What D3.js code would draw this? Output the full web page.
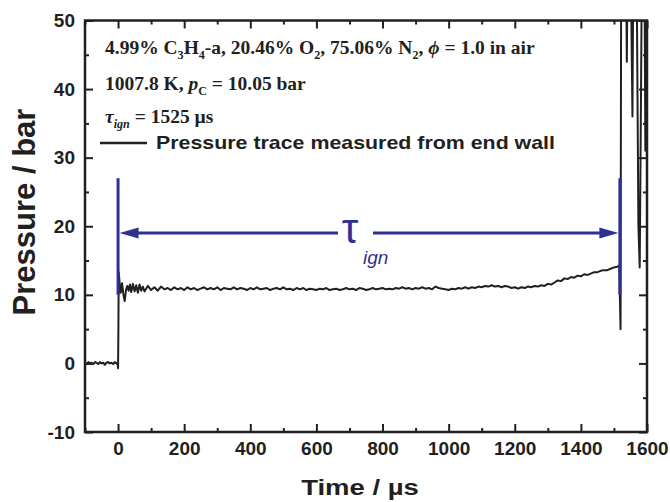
<!DOCTYPE html>
<html>
<head>
<meta charset="utf-8">
<script src="https://cdn.jsdelivr.net/npm/d3@7"></script>
<style>
  body { margin: 0; background: #fff; }
  svg { display: block; }
</style>
</head>
<body>
<div id="chart"></div>
<script>
// axis ticks
var xTickValues = [0, 200, 400, 600, 800, 1000, 1200, 1400, 1600];
var xMinorValues = [-100, 100, 300, 500, 700, 900, 1100, 1300, 1500];
var yTickValues = [-10, 0, 10, 20, 30, 40, 50];
var yMinorValues = [-5, 5, 15, 25, 35, 45];

// pressure trace, [time us, pressure bar]
var trace = [
  [-100, 0.1], [-95, -0.1], [-90, 0.2], [-85, 0.0], [-80, 0.1], [-75, -0.1], [-70, 0.2],
  [-65, 0.1], [-60, -0.1], [-55, 0.2], [-50, 0.0], [-45, 0.1], [-40, -0.2], [-35, 0.1],
  [-30, 0.2], [-25, 0.0], [-20, 0.1], [-15, -0.1], [-10, 0.2], [-5, 0.0], [-2, 0.1],
  [0, -0.7], [1, 5.0], [2, 13.3], [5, 11.6], [8, 10.3], [12, 11.7], [16, 10.1], [20, 9.1],
  [24, 10.7], [28, 11.3], [32, 10.6], [36, 11.5], [40, 10.4], [45, 11.6], [50, 10.5],
  [55, 11.4], [60, 10.3], [65, 11.5], [70, 10.6], [75, 11.2], [80, 10.5], [90, 11.3],
  [100, 10.7], [110, 11.1], [120, 10.6], [130, 11.2], [140, 10.8], [150, 11.0], [160, 10.7],
  [170, 11.1], [180, 10.8], [190, 11.0], [200, 10.7], [210, 11.1], [220, 10.8], [230, 11.0],
  [240, 10.7], [250, 10.9], [260, 11.1], [270, 10.8], [280, 11.0], [290, 10.8], [300, 11.1],
  [310, 10.7], [320, 11.0], [330, 10.9], [340, 10.8], [350, 11.1], [360, 10.8], [370, 11.0],
  [380, 10.9], [390, 10.7], [400, 11.0], [410, 10.8], [420, 11.1], [430, 10.8], [440, 10.9],
  [450, 11.0], [460, 10.7], [470, 10.9], [480, 11.0], [490, 10.8], [500, 11.1], [510, 10.8],
  [520, 10.9], [530, 10.7], [540, 11.0], [550, 10.8], [560, 11.0], [570, 10.7], [580, 10.9],
  [590, 10.8], [600, 10.7], [610, 10.9], [620, 10.8], [630, 11.0], [640, 10.7], [650, 10.8],
  [660, 10.9], [670, 10.7], [680, 10.8], [690, 11.0], [700, 10.8], [710, 10.9], [720, 10.7],
  [730, 11.0], [740, 10.9], [750, 10.7], [760, 10.8], [770, 11.0], [780, 10.8], [790, 10.9],
  [800, 11.0], [810, 10.8], [820, 10.9], [830, 10.8], [840, 11.0], [850, 10.9], [860, 11.1],
  [870, 10.9], [880, 11.0], [890, 10.8], [900, 11.0], [910, 10.9], [920, 11.1], [930, 10.9],
  [940, 11.0], [950, 10.8], [960, 11.2], [970, 11.0], [980, 10.9], [990, 10.8], [1000, 10.7],
  [1010, 10.9], [1020, 10.8], [1030, 11.0], [1040, 10.9], [1050, 11.1], [1060, 10.9],
  [1070, 11.1], [1080, 11.0], [1090, 11.2], [1100, 11.1], [1110, 11.3], [1120, 11.2],
  [1130, 11.4], [1140, 11.2], [1150, 11.3], [1160, 11.1], [1170, 11.3], [1180, 11.2],
  [1190, 11.0], [1200, 11.1], [1210, 10.9], [1220, 11.1], [1230, 11.0], [1240, 11.2],
  [1250, 11.1], [1260, 11.3], [1270, 11.2], [1280, 11.4], [1290, 11.3], [1300, 11.6],
  [1310, 11.5], [1320, 11.8], [1330, 12.1], [1340, 12.0], [1350, 12.4], [1360, 12.3],
  [1370, 12.6], [1380, 12.5], [1390, 12.8], [1400, 12.7], [1410, 13.0], [1420, 12.9],
  [1430, 13.1], [1440, 13.3], [1450, 13.3], [1460, 13.5], [1470, 13.6], [1480, 13.6],
  [1490, 13.8], [1500, 14.0], [1510, 14.1], [1516, 14.3],
  [1520, 5.0], [1522, 62], [1530, 62], [1536, 62], [1539, 44], [1542, 62], [1550, 62],
  [1556, 36], [1559, 62], [1568, 62], [1574, 20], [1578, 14], [1582, 40], [1585, 62],
  [1592, 62], [1595, 31], [1598, 62], [1600, 62]
];

// ignition delay marker
var tauStart = 0;
var tauEnd = 1518;
var arrowP = 19;
var markerTop = 27;
var markerBottom = 10;

const w = 670;
const h = 502;
const plotLeft = 85, plotRight = 647, plotTop = 20.5, plotBottom = 432;
const ink = "#231f20";
const blue = "#2e3192";
const sans = "'Liberation Sans', Arial, sans-serif";
const serif = "'Liberation Serif', 'Times New Roman', serif";

var x = d3.scaleLinear().domain([-100, 1600]).range([plotLeft, plotRight]);
var y = d3.scaleLinear().domain([-10, 50]).range([plotBottom, plotTop]);

// plain numbers, hyphen minus, no thousands comma
function plain(d) { return String(d); }

const svg = d3.select("#chart").append("svg")
  .attr("width", w)
  .attr("height", h);

svg.append("clipPath").attr("id", "plot-clip")
  .append("rect")
  .attr("x", plotLeft).attr("y", plotTop)
  .attr("width", plotRight - plotLeft).attr("height", plotBottom - plotTop);

// axes, ticks point inward on all four sides
function styleAxis(g) {
  g.select(".domain").remove();
  g.selectAll("line").attr("stroke", ink).attr("stroke-width", 2);
  g.selectAll("text")
    .attr("fill", ink)
    .style("font-family", sans)
    .style("font-weight", "bold")
    .style("font-size", "19px");
}

svg.append("g").attr("transform", "translate(0," + plotBottom + ")")
  .call(d3.axisBottom(x).tickValues(xTickValues).tickSize(-8).tickPadding(10).tickFormat(plain))
  .call(styleAxis);
svg.append("g").attr("transform", "translate(0," + plotBottom + ")")
  .call(d3.axisBottom(x).tickValues(xMinorValues).tickSize(-4).tickFormat(""))
  .call(styleAxis);
svg.append("g").attr("transform", "translate(0," + plotTop + ")")
  .call(d3.axisTop(x).tickValues(xTickValues).tickSize(-8).tickFormat(""))
  .call(styleAxis);
svg.append("g").attr("transform", "translate(0," + plotTop + ")")
  .call(d3.axisTop(x).tickValues(xMinorValues).tickSize(-4).tickFormat(""))
  .call(styleAxis);

svg.append("g").attr("transform", "translate(" + plotLeft + ",0)")
  .call(d3.axisLeft(y).tickValues(yTickValues).tickSize(-8).tickPadding(10).tickFormat(plain))
  .call(styleAxis);
svg.append("g").attr("transform", "translate(" + plotLeft + ",0)")
  .call(d3.axisLeft(y).tickValues(yMinorValues).tickSize(-4).tickFormat(""))
  .call(styleAxis);
svg.append("g").attr("transform", "translate(" + plotRight + ",0)")
  .call(d3.axisRight(y).tickValues(yTickValues).tickSize(-8).tickFormat(""))
  .call(styleAxis);
svg.append("g").attr("transform", "translate(" + plotRight + ",0)")
  .call(d3.axisRight(y).tickValues(yMinorValues).tickSize(-4).tickFormat(""))
  .call(styleAxis);

// the trace
var line = d3.line()
  .x(function(d) { return x(d[0]); })
  .y(function(d) { return y(d[1]); });

svg.append("path")
  .datum(trace)
  .attr("clip-path", "url(#plot-clip)")
  .attr("fill", "none")
  .attr("stroke", ink)
  .attr("stroke-width", 2)
  .attr("stroke-linejoin", "round")
  .attr("d", line);

// tau marker: two vertical bars and a double arrow
svg.selectAll(".marker")
  .data([tauStart, tauEnd])
  .enter().append("line")
  .attr("x1", function(d) { return x(d); })
  .attr("x2", function(d) { return x(d); })
  .attr("y1", y(markerTop))
  .attr("y2", y(markerBottom))
  .attr("stroke", blue)
  .attr("stroke-width", 3);

const ay = y(arrowP);
const headLen = 19, headHalf = 5.5;
svg.append("line")
  .attr("x1", x(tauStart) + headLen).attr("x2", 338)
  .attr("y1", ay).attr("y2", ay)
  .attr("stroke", blue).attr("stroke-width", 3);
svg.append("line")
  .attr("x1", 373).attr("x2", x(tauEnd) - headLen)
  .attr("y1", ay).attr("y2", ay)
  .attr("stroke", blue).attr("stroke-width", 3);

svg.append("path")
  .attr("fill", blue)
  .attr("d", "M" + (x(tauStart) + 1.5) + "," + ay +
             "L" + (x(tauStart) + 1.5 + headLen) + "," + (ay - headHalf) +
             "L" + (x(tauStart) + 1.5 + headLen) + "," + (ay + headHalf) + "Z");
svg.append("path")
  .attr("fill", blue)
  .attr("d", "M" + (x(tauEnd) - 1.5) + "," + ay +
             "L" + (x(tauEnd) - 1.5 - headLen) + "," + (ay - headHalf) +
             "L" + (x(tauEnd) - 1.5 - headLen) + "," + (ay + headHalf) + "Z");

svg.append("text")
  .attr("x", 350).attr("y", 243)
  .attr("text-anchor", "middle")
  .attr("fill", blue)
  .style("font-family", sans)
  .style("font-size", "42px")
  .text("τ");
svg.append("text")
  .attr("x", 363).attr("y", 264)
  .attr("fill", blue)
  .style("font-family", sans)
  .style("font-style", "italic")
  .style("font-size", "19px")
  .text("ign");

// rich text with subscripts, parts are [text, kind]
function richText(xp, yp, size, parts) {
  var t = svg.append("text")
    .attr("x", xp).attr("y", yp)
    .attr("fill", ink)
    .style("font-family", serif)
    .style("font-weight", "bold")
    .style("font-size", size + "px");
  var shifted = false;
  parts.forEach(function(p) {
    var s = t.append("tspan").text(p[0]);
    var isSub = p[1].indexOf("sub") >= 0;
    if (isSub && !shifted) { s.attr("dy", size * 0.28); shifted = true; }
    if (!isSub && shifted) { s.attr("dy", -size * 0.28); shifted = false; }
    if (isSub) s.style("font-size", (size * 0.62) + "px");
    if (p[1].indexOf("i") === 0) s.style("font-style", "italic");
  });
  return t;
}

richText(105, 54, 19.5, [
  ["4.99% C", "n"], ["3", "sub"], ["H", "n"], ["4", "sub"], ["-a, 20.46% O", "n"], ["2", "sub"],
  [", 75.06% N", "n"], ["2", "sub"], [", ", "n"], ["\u03d5", "i"], [" = 1.0 in air", "n"]
]);
richText(105, 90, 19.5, [
  ["1007.8 K, ", "n"], ["p", "i"], ["C", "sub"], [" = 10.05 bar", "n"]
]);
richText(105, 123, 19.5, [
  ["\u03c4", "i"], ["ign", "isub"], [" = 1525 \u00b5s", "n"]
]);

// legend
svg.append("line")
  .attr("x1", 100).attr("x2", 147)
  .attr("y1", 143).attr("y2", 143)
  .attr("stroke", ink).attr("stroke-width", 2.5);
svg.append("text")
  .attr("x", 156).attr("y", 149)
  .attr("fill", ink)
  .attr("textLength", 399)
  .attr("lengthAdjust", "spacingAndGlyphs")
  .style("font-family", sans)
  .style("font-weight", "bold")
  .style("font-size", "19px")
  .text("Pressure trace measured from end wall");

// frame
svg.append("rect")
  .attr("x", plotLeft).attr("y", plotTop)
  .attr("width", plotRight - plotLeft).attr("height", plotBottom - plotTop)
  .attr("fill", "none")
  .attr("stroke", ink)
  .attr("stroke-width", 2.5);

// axis titles
svg.append("text")
  .attr("transform", "translate(35," + 212 + ") rotate(-90)")
  .attr("text-anchor", "middle")
  .attr("fill", ink)
  .style("font-family", sans)
  .style("font-weight", "bold")
  .style("font-size", "31px")
  .text("Pressure / bar");
svg.append("text")
  .attr("transform", "translate(360,495) scale(1.25,1)")
  .attr("text-anchor", "middle")
  .attr("fill", ink)
  .style("font-family", sans)
  .style("font-weight", "bold")
  .style("font-size", "22px")
  .text("Time / \u00b5s");
</script>
</body>
</html>
